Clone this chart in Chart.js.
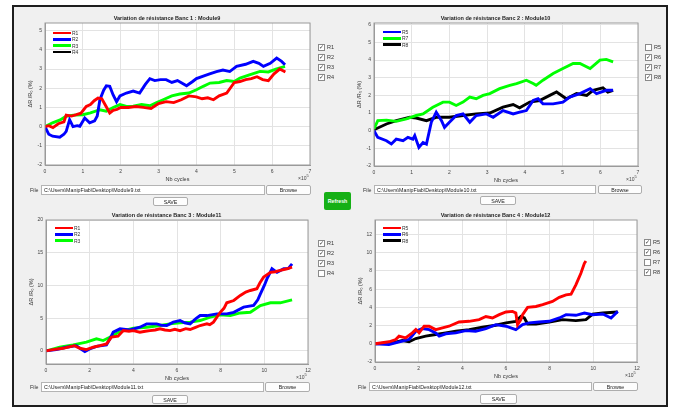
<!DOCTYPE html>
<html>
<head>
<meta charset="utf-8">
<script src="https://cdn.jsdelivr.net/npm/chart.js@4.4.0/dist/chart.umd.min.js"></script>
<style>
body{margin:0;width:676px;height:409px;background:#fff;font-family:Arial,"Liberation Sans",sans-serif;position:relative;overflow:hidden}
.frame{position:absolute;left:12px;top:5px;width:656px;height:402px;border:2px solid #1e1e1e;background:#f0f0f0;box-sizing:border-box}
canvas{position:absolute}
.lg{position:absolute;font-size:5px;color:#333}
.lg div{display:flex;align-items:center;height:6.3px}
.lg span.l{display:inline-block;width:18px;height:2.5px;margin-right:1px}
.cb{position:absolute;font-size:5.5px;color:#333}
.cb div{height:10px;display:flex;align-items:center}
.cb .box{width:5px;height:5px;border:1px solid #8a8a8a;background:#fff;margin-right:2px;font-size:5.5px;line-height:5px;text-align:center;color:#333}
.field{position:absolute;background:#fff;border:1px solid #b4b4b4;font-size:5.3px;line-height:8px;padding-left:2px;box-sizing:border-box;color:#222;white-space:nowrap}
.btn{position:absolute;background:#fdfdfd;border:1px solid #adadad;border-radius:2px;font-size:5.3px;display:flex;align-items:center;justify-content:center;box-sizing:border-box;color:#222}
.lab{position:absolute;font-size:5.3px;color:#333}
.exp{position:absolute;font-size:5px;color:#444}
#refresh{position:absolute;left:324px;top:192px;width:27px;height:18px;background:#16b016;border-radius:2px;color:#fff;font-size:5.3px;font-weight:bold;display:flex;align-items:center;justify-content:center}
</style>
</head>
<body>
<div class="frame"></div>
<div id="refresh">Refresh</div>
<script>
// Banc 1 : Module9 (x en 10^5 cycles, y en %)
const b1R1x = [0, 0.1, 0.21, 0.35, 0.5, 0.56, 0.7, 0.83, 0.95, 1.09, 1.2, 1.3, 1.4, 1.5, 1.6, 1.71, 1.8, 1.9, 2.0, 2.2, 2.4, 2.6, 2.8, 3.0, 3.2, 3.4, 3.6, 3.8, 4.0, 4.15, 4.3, 4.45, 4.6, 4.8, 5.0, 5.15, 5.3, 5.45, 5.6, 5.75, 5.9, 6.05, 6.2, 6.35];
const b1R1y = [0, 0.05, -0.05, 0.15, 0.25, 0.6, 0.55, 0.62, 0.7, 1.05, 1.15, 1.35, 1.49, 1.45, 1.1, 0.71, 0.85, 0.9, 1.0, 1.0, 1.05, 1.0, 0.95, 1.2, 1.3, 1.25, 1.4, 1.6, 1.55, 1.45, 1.5, 1.4, 1.6, 1.75, 2.3, 2.35, 2.45, 2.5, 2.6, 2.45, 2.4, 2.75, 3.0, 2.85];
const b1R2x = [0, 0.1, 0.2, 0.39, 0.5, 0.56, 0.65, 0.74, 0.85, 0.92, 1.05, 1.18, 1.31, 1.38, 1.45, 1.55, 1.62, 1.71, 1.8, 1.89, 1.98, 2.15, 2.33, 2.5, 2.65, 2.77, 2.9, 3.05, 3.2, 3.35, 3.5, 3.74, 3.9, 4.0, 4.2, 4.35, 4.53, 4.7, 4.88, 5.06, 5.3, 5.5, 5.65, 5.77, 5.95, 6.12, 6.25, 6.34];
const b1R2y = [0, -0.4, -0.5, -0.55, -0.4, -0.25, 0.36, 0.0, 0.05, 0.02, 0.45, 0.2, 0.3, 0.55, 1.4, 1.9, 2.13, 2.1, 1.65, 1.3, 1.6, 1.75, 1.85, 1.75, 2.2, 2.5, 2.4, 2.45, 2.45, 2.3, 2.4, 2.13, 2.35, 2.5, 2.65, 2.75, 2.87, 2.95, 2.87, 3.14, 3.25, 3.4, 3.3, 3.14, 3.3, 3.57, 3.4, 3.22];
const b1R3x = [0, 0.2, 0.4, 0.56, 0.75, 1.0, 1.2, 1.45, 1.62, 1.8, 1.98, 2.15, 2.33, 2.55, 2.77, 2.95, 3.12, 3.35, 3.56, 3.8, 4.0, 4.18, 4.36, 4.6, 4.8, 5.0, 5.15, 5.4, 5.68, 5.9, 6.1, 6.34];
const b1R3y = [0, 0.2, 0.35, 0.54, 0.6, 0.62, 0.72, 0.88, 0.8, 1.0, 1.15, 1.05, 1.06, 1.15, 1.09, 1.25, 1.4, 1.6, 1.7, 1.75, 1.92, 2.1, 2.27, 2.3, 2.4, 2.35, 2.53, 2.7, 2.88, 2.85, 3.0, 3.14];
const b1R4x = [];
const b1R4y = [];

// Banc 2 : Module10
const b2R5x = [0, 0.1, 0.33, 0.46, 0.59, 0.77, 0.9, 1.03, 1.08, 1.19, 1.3, 1.39, 1.52, 1.65, 1.79, 1.87, 2.0, 2.18, 2.36, 2.54, 2.71, 2.98, 3.16, 3.42, 3.69, 3.86, 4.04, 4.22, 4.35, 4.48, 4.75, 5.01, 5.19, 5.46, 5.73, 5.9, 6.16, 6.34];
const b2R5y = [0, -0.38, -0.57, -0.75, -0.48, -0.57, -0.38, -0.48, -0.28, -0.95, -0.67, -0.76, 0.48, 1.05, 0.57, 0.19, 0.48, 0.86, 0.95, 0.48, 0.86, 0.95, 0.76, 1.14, 0.95, 1.05, 1.14, 1.71, 1.81, 1.52, 1.52, 1.62, 1.9, 2.1, 2.38, 2.1, 2.29, 2.29];
const b2R7x = [0, 0.1, 0.33, 0.59, 0.86, 1.12, 1.3, 1.56, 1.83, 2.0, 2.18, 2.36, 2.54, 2.71, 2.89, 3.07, 3.33, 3.6, 3.78, 4.04, 4.22, 4.3, 4.48, 4.75, 5.01, 5.28, 5.46, 5.73, 5.99, 6.16, 6.34];
const b2R7y = [0.1, 0.57, 0.6, 0.53, 0.67, 0.86, 0.95, 1.33, 1.62, 1.62, 1.43, 1.62, 1.9, 1.81, 2.0, 2.1, 2.38, 2.57, 2.67, 2.86, 2.67, 2.57, 2.86, 3.24, 3.52, 3.81, 3.81, 3.52, 4.0, 4.04, 3.9];
const b2R8x = [0, 0.33, 0.59, 0.95, 1.12, 1.39, 1.65, 2.0, 2.36, 2.71, 3.07, 3.42, 3.69, 3.86, 4.13, 4.39, 4.66, 4.84, 5.1, 5.37, 5.64, 5.81, 6.07, 6.2, 6.34];
const b2R8y = [0.05, 0.38, 0.57, 0.76, 0.72, 0.57, 0.76, 0.76, 0.86, 0.95, 1.0, 1.33, 1.48, 1.3, 1.62, 1.71, 2.0, 2.19, 1.81, 2.1, 2.0, 2.29, 2.43, 2.19, 2.29];

// Banc 3 : Module11
const b3R1x = [0, 0.32, 0.78, 1.16, 1.3, 1.55, 1.85, 2.16, 2.47, 2.77, 3.0, 3.3, 3.54, 3.8, 4.0, 4.3, 4.55, 4.76, 5.0, 5.22, 5.45, 5.68, 5.9, 6.14, 6.4, 6.6, 6.85, 7.06, 7.37, 7.5, 7.67, 7.98, 8.15, 8.28, 8.6, 8.9, 9.15, 9.36, 9.66, 9.8, 9.97, 10.28, 10.5, 10.73, 11.04, 11.27];
const b3R1y = [0, 0.2, 0.4, 0.7, 0.8, 0.4, 0.2, 0.56, 0.8, 1.07, 2.1, 2.24, 3.1, 3.0, 3.1, 2.86, 3.0, 3.1, 3.2, 3.37, 3.2, 3.1, 3.3, 3.1, 3.4, 3.27, 3.6, 3.88, 4.13, 4.0, 4.4, 5.9, 6.5, 7.35, 7.7, 8.47, 9.0, 9.23, 9.5, 10.4, 11.3, 12.0, 12.1, 12.3, 12.55, 12.8];
const b3R2x = [0, 0.47, 0.93, 1.39, 1.6, 1.78, 2.0, 2.31, 2.77, 2.95, 3.08, 3.39, 3.84, 4.3, 4.61, 5.07, 5.3, 5.53, 5.83, 6.14, 6.35, 6.6, 6.85, 7.06, 7.37, 7.83, 8.28, 8.6, 9.05, 9.51, 9.7, 9.82, 10.0, 10.12, 10.35, 10.58, 10.89, 11.1, 11.27];
const b3R2y = [0, 0.2, 0.56, 0.8, 0.3, -0.1, 0.3, 0.7, 0.92, 2.0, 2.86, 3.37, 3.2, 3.62, 4.13, 4.13, 3.9, 3.88, 4.4, 4.64, 4.3, 4.13, 4.9, 5.4, 5.4, 5.66, 5.66, 5.9, 6.68, 6.94, 7.8, 8.7, 10.0, 11.0, 12.55, 12.0, 12.55, 12.6, 13.3];
const b3R3x = [0, 0.63, 1.24, 1.85, 2.31, 2.62, 2.92, 3.39, 4.0, 4.61, 5.22, 5.68, 6.14, 6.6, 7.06, 7.52, 7.98, 8.44, 8.9, 9.36, 9.82, 10.28, 10.73, 11.27];
const b3R3y = [0, 0.56, 0.92, 1.33, 1.84, 1.58, 2.1, 2.96, 3.47, 3.62, 3.88, 4.13, 4.29, 4.4, 4.64, 5.15, 5.5, 5.4, 5.8, 5.9, 6.94, 7.35, 7.35, 7.8];

// Banc 4 : Module12
const b4R5x = [0, 0.64, 0.95, 1.1, 1.4, 1.71, 1.87, 2.02, 2.25, 2.48, 2.78, 3.09, 3.39, 3.85, 4.31, 4.77, 5.08, 5.38, 5.69, 6.0, 6.3, 6.45, 6.53, 6.68, 6.76, 6.99, 7.37, 7.68, 8.13, 8.44, 8.75, 8.98, 9.2, 9.43, 9.59, 9.66];
const b4R5y = [0, 0.22, 0.47, 0.84, 0.65, 1.2, 1.56, 1.2, 1.93, 1.93, 1.56, 1.75, 1.93, 2.4, 2.47, 2.65, 3.0, 2.84, 3.2, 3.5, 3.56, 3.38, 2.1, 2.65, 3.2, 4.0, 4.1, 4.3, 4.65, 5.1, 5.38, 5.45, 6.47, 7.75, 8.84, 9.1];
const b4R6x = [0, 0.64, 1.25, 1.56, 1.87, 2.17, 2.48, 2.78, 2.94, 3.24, 3.7, 4.16, 4.61, 5.08, 5.53, 6.0, 6.45, 6.76, 7.06, 7.52, 7.98, 8.44, 8.75, 9.2, 9.59, 9.97, 10.43, 10.81, 11.12];
const b4R6y = [0, -0.07, 0.29, 0.47, 1.38, 1.67, 1.56, 1.2, 0.84, 1.1, 1.2, 1.45, 1.38, 1.67, 2.1, 1.93, 1.56, 2.1, 2.3, 2.4, 2.47, 2.84, 3.2, 3.13, 3.38, 3.2, 3.27, 2.84, 3.56];
const b4R8x = [0, 0.8, 1.25, 1.56, 1.87, 2.32, 2.78, 3.24, 3.7, 4.31, 4.92, 5.53, 6.0, 6.45, 6.68, 6.84, 6.99, 7.37, 7.98, 8.6, 9.2, 9.66, 9.97, 10.43, 11.12];
const b4R8y = [0, 0.1, 0.36, 0.22, 0.58, 0.84, 1.02, 1.2, 1.38, 1.56, 1.82, 2.04, 2.3, 2.47, 3.0, 2.84, 2.18, 2.18, 2.4, 2.65, 2.55, 2.65, 3.27, 3.38, 3.5];

// Cases à cocher à droite de chaque graphe
const chkNoms1 = ['R1', 'R2', 'R3', 'R4'];
const chkEtat1 = [true, true, true, true];
const chkNoms2 = ['R5', 'R6', 'R7', 'R8'];
const chkEtat2 = [false, true, true, true];
const chkNoms3 = ['R1', 'R2', 'R3', 'R4'];
const chkEtat3 = [true, true, true, false];
const chkNoms4 = ['R5', 'R6', 'R7', 'R8'];
const chkEtat4 = [true, true, false, true];

const ROUGE = '#ff0000', BLEU = '#0000ff', VERT = '#00ff00', NOIR = '#000000';

const panneaux = [
    { titre: 'Variation de résistance Banc 1 : Module9', fichier: 'C:\\Users\\ManipFiab\\Desktop\\Module9.txt',
      L: 45, R: 310, T: 23, B: 165, xmax: 7, xstep: 1, ymin: -2, ymax: 5.4, ystep: 1,
      series: [['R1', b1R1x, b1R1y, ROUGE], ['R2', b1R2x, b1R2y, BLEU], ['R3', b1R3x, b1R3y, VERT], ['R4', b1R4x, b1R4y, NOIR]],
      legende: [53, 30], chk: [318, 42, chkNoms1, chkEtat1],
      champ: [41, 185, 265, 195], browse: [266, 311], save: [153, 197, 188, 206] },
    { titre: 'Variation de résistance Banc 2 : Module10', fichier: 'C:\\Users\\ManipFiab\\Desktop\\Module10.txt',
      L: 374, R: 638, T: 23, B: 166, xmax: 7, xstep: 1, ymin: -2, ymax: 6.1, ystep: 1,
      series: [['R5', b2R5x, b2R5y, BLEU], ['R7', b2R7x, b2R7y, VERT], ['R8', b2R8x, b2R8y, NOIR]],
      legende: [383, 29], chk: [645, 42, chkNoms2, chkEtat2],
      champ: [374, 185, 596, 194], browse: [598, 642], save: [480, 196, 516, 205] },
    { titre: 'Variation de résistance Banc 3 : Module11', fichier: 'C:\\Users\\ManipFiab\\Desktop\\Module11.txt',
      L: 46, R: 308, T: 220, B: 364, xmax: 12, xstep: 2, ymin: -2, ymax: 20, ystep: 5,
      series: [['R1', b3R1x, b3R1y, ROUGE], ['R2', b3R2x, b3R2y, BLEU], ['R3', b3R3x, b3R3y, VERT]],
      legende: [55, 225], chk: [318, 238, chkNoms3, chkEtat3],
      champ: [41, 382, 264, 392], browse: [265, 310], save: [152, 395, 188, 404] },
    { titre: 'Variation de résistance Banc 4 : Module12', fichier: 'C:\\Users\\ManipFiab\\Desktop\\Module12.txt',
      L: 375, R: 637, T: 220, B: 362, xmax: 12, xstep: 2, ymin: -2, ymax: 13.6, ystep: 2,
      series: [['R5', b4R5x, b4R5y, ROUGE], ['R6', b4R6x, b4R6y, BLEU], ['R8', b4R8x, b4R8y, NOIR]],
      legende: [383, 225], chk: [644, 237, chkNoms4, chkEtat4],
      champ: [369, 382, 592, 391], browse: [593, 638], save: [480, 394, 517, 404] }
];

// Fond blanc et cadre de la zone de tracé (style MATLAB)
const cadre = {
    id: 'cadre',
    beforeDraw(chart) {
        const a = chart.chartArea, ctx = chart.ctx;
        ctx.save();
        ctx.fillStyle = '#ffffff';
        ctx.fillRect(a.left, a.top, a.width, a.height);
        ctx.restore();
    },
    afterDraw(chart) {
        const a = chart.chartArea, ctx = chart.ctx;
        ctx.save();
        ctx.strokeStyle = '#9a9a9a';
        ctx.lineWidth = 1;
        ctx.strokeRect(a.left, a.top, a.width, a.height);
        ctx.restore();
    }
};

const TITRE_H = 14, AXEX_H = 20, AXEY_W = 21;

function ajouter(html, cls, style) {
    const d = document.createElement('div');
    d.className = cls;
    d.innerHTML = html;
    Object.assign(d.style, style);
    document.body.appendChild(d);
    return d;
}

function creerGraphe(p) {
    const cv = document.createElement('canvas');
    const w = (p.R - p.L) + 2 * AXEY_W;
    const h = (p.B - p.T) + TITRE_H + AXEX_H;
    cv.width = w;
    cv.height = h;
    cv.style.left = (p.L - AXEY_W) + 'px';
    cv.style.top = (p.T - TITRE_H) + 'px';
    cv.style.width = w + 'px';
    cv.style.height = h + 'px';
    document.body.appendChild(cv);

    new Chart(cv, {
        type: 'line',
        data: {
            datasets: p.series.map(s => ({
                label: s[0],
                data: s[1].map((x, i) => ({ x: x, y: s[2][i] })),
                borderColor: s[3],
                backgroundColor: s[3],
                borderWidth: 2.9,
                pointRadius: 0,
                tension: 0,
                fill: false
            }))
        },
        options: {
            responsive: false,
            animation: false,
            layout: { padding: { right: AXEY_W, left: 0, top: 0, bottom: 0 } },
            plugins: {
                legend: { display: false },
                tooltip: { enabled: false },
                title: {
                    display: true,
                    text: p.titre,
                    color: '#222',
                    font: { family: 'Arial', size: 5.5, weight: 'bold' },
                    padding: { top: 6, bottom: 1.4 }
                }
            },
            scales: {
                x: {
                    type: 'linear', min: 0, max: p.xmax,
                    ticks: { stepSize: p.xstep, color: '#444', font: { family: 'Arial', size: 5 }, padding: 4, maxRotation: 0 },
                    grid: { color: '#e3e3e3', drawTicks: false },
                    border: { color: '#9a9a9a' },
                    title: { display: true, text: 'Nb cycles', color: '#333', font: { family: 'Arial', size: 5.5 }, padding: { top: 0, bottom: 2.7 } },
                    afterFit: s => { s.height = AXEX_H; }
                },
                y: {
                    type: 'linear', min: p.ymin, max: p.ymax,
                    ticks: { stepSize: p.ystep, includeBounds: false, color: '#444', font: { family: 'Arial', size: 5 }, padding: 3 },
                    grid: { color: '#e3e3e3', drawTicks: false },
                    border: { color: '#9a9a9a' },
                    title: { display: true, text: 'ΔR /R₀ (%)', color: '#333', font: { family: 'Arial', size: 5.5 }, padding: { top: 2.7, bottom: 0 } },
                    afterFit: s => { s.width = AXEY_W; }
                }
            }
        },
        plugins: [cadre]
    });

    // légende en haut à gauche
    const lg = p.series.map(s => `<div><span class="l" style="background:${s[3]}"></span>${s[0]}</div>`).join('');
    ajouter(lg, 'lg', { left: p.legende[0] + 'px', top: p.legende[1] + 'px' });

    // exposant de l'axe x
    ajouter('×10<sup style="font-size:4px">5</sup>', 'exp', { left: (p.R - 12) + 'px', top: (p.B + 8) + 'px' });

    // cases à cocher
    const [cx, cy, noms, etats] = p.chk;
    const cb = noms.map((n, i) => `<div><span class="box">${etats[i] ? '✓' : ''}</span>${n}</div>`).join('');
    ajouter(cb, 'cb', { left: cx + 'px', top: cy + 'px' });

    // ligne fichier
    const [fx1, fy1, fx2, fy2] = p.champ;
    ajouter('File', 'lab', { left: (fx1 - 11) + 'px', top: (fy1 + 1.5) + 'px' });
    ajouter(p.fichier, 'field', { left: fx1 + 'px', top: fy1 + 'px', width: (fx2 - fx1) + 'px', height: (fy2 - fy1) + 'px' });
    ajouter('Browse', 'btn', { left: p.browse[0] + 'px', top: fy1 + 'px', width: (p.browse[1] - p.browse[0]) + 'px', height: (fy2 - fy1) + 'px' });
    const [sx1, sy1, sx2, sy2] = p.save;
    ajouter('SAVE', 'btn', { left: sx1 + 'px', top: sy1 + 'px', width: (sx2 - sx1) + 'px', height: (sy2 - sy1) + 'px' });
}

panneaux.forEach(creerGraphe);
</script>
</body>
</html>
